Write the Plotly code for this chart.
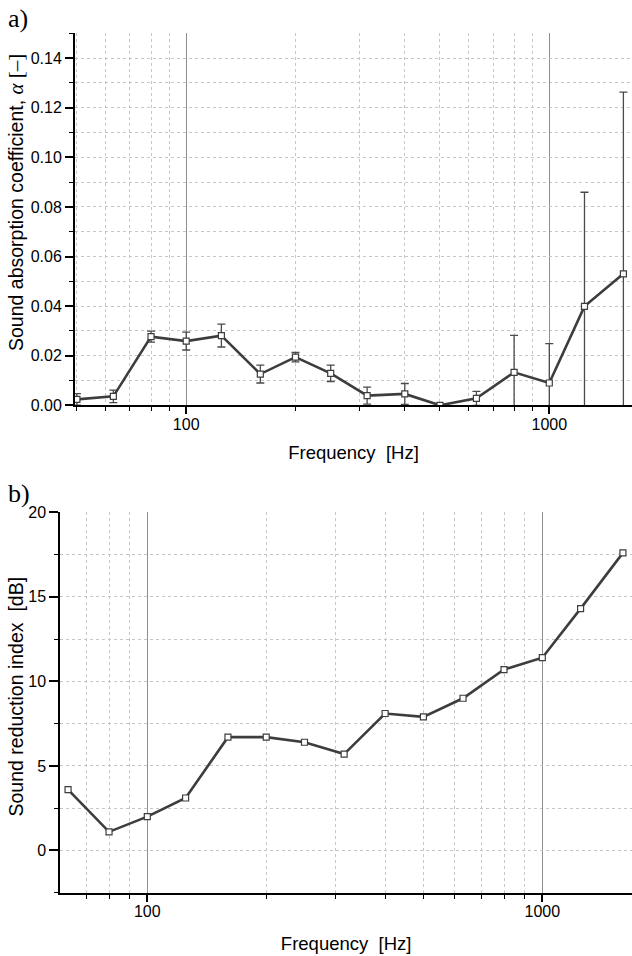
import numpy as np
import plotly.graph_objects as go

# ---- data ----
freq_a = [50, 63, 80, 100, 125, 160, 200, 250, 315, 400, 500, 630, 800, 1000, 1250, 1600]
alpha = [0.0024, 0.0036, 0.0277, 0.0259, 0.0281, 0.0126, 0.0194, 0.0129,
         0.0039, 0.0046, 0.0000, 0.0028, 0.0133, 0.0090, 0.0399, 0.0530]
alpha_err = [0.0023, 0.0025, 0.0022, 0.0036, 0.0046, 0.0036, 0.0019, 0.0033,
             0.0034, 0.0042, 0.0000, 0.0028, 0.0149, 0.0159, 0.0460, 0.0733]

freq_b = [63, 80, 100, 125, 160, 200, 250, 315, 400, 500, 630, 800, 1000, 1250, 1600]
R_dB = [3.6, 1.1, 2.0, 3.1, 6.7, 6.7, 6.4, 5.7, 8.1, 7.9, 9.0, 10.7, 11.4, 14.3, 17.6]

major_x = [100, 1000]
major_x_text = ["100", "1000"]
minor_x = [50, 60, 70, 80, 90, 200, 300, 400, 500, 600, 700, 800, 900, 2000]

W, H = 632, 956
LINE = "#3d3d3d"
ERR = "#4a4a4a"
GRID_MINOR = "#c6c6c6"
GRID_MAJOR = "#8f8f8f"
SANS = "Liberation Sans, Arial, sans-serif"
SERIF = "Liberation Serif, serif"

fig = go.Figure()

fig.add_trace(go.Scatter(
    x=freq_a, y=alpha, mode="lines+markers", xaxis="x", yaxis="y",
    line=dict(color=LINE, width=2.6),
    marker=dict(symbol="square", size=6, color="white", line=dict(color=LINE, width=1.2)),
    error_y=dict(type="data", array=alpha_err, visible=True, color=ERR, thickness=1.3, width=4),
    showlegend=False,
))
fig.add_trace(go.Scatter(
    x=freq_b, y=R_dB, mode="lines+markers", xaxis="x2", yaxis="y2",
    line=dict(color=LINE, width=2.6),
    marker=dict(symbol="square", size=6, color="white", line=dict(color=LINE, width=1.2)),
    showlegend=False,
))

def xaxis_cfg(domain, rng, anchor, standoff):
    return dict(
        type="log", domain=domain, range=rng, anchor=anchor,
        tickmode="array", tickvals=major_x, ticktext=major_x_text,
        showgrid=True, gridcolor=GRID_MAJOR, gridwidth=1,
        ticks="outside", ticklen=7, tickwidth=1.5, tickcolor="black",
        ticklabelstandoff=-4,
        showline=True, linecolor="black", linewidth=2, zeroline=False,
        tickfont=dict(family=SANS, size=16, color="black"),
        minor=dict(tickmode="array", tickvals=minor_x, ticks="outside", ticklen=4,
                   tickwidth=1.2, tickcolor="black", showgrid=True,
                   gridcolor=GRID_MINOR, griddash="dot", gridwidth=1),
        title=dict(text="Frequency\u00a0 [Hz]", font=dict(family=SANS, size=18.5, color="black"),
                   standoff=standoff),
        automargin=False,
    )

def ydom(top_px, bottom_px):
    return [1 - bottom_px / H, 1 - top_px / H]

def yaxis_common(**kw):
    d = dict(
        showgrid=True, gridcolor=GRID_MINOR, griddash="dot", gridwidth=1,
        ticks="outside", tickwidth=1.5, tickcolor="black",
        showline=True, linecolor="black", linewidth=2, zeroline=False,
        tickfont=dict(family=SANS, size=16, color="black"),
        automargin=False,
    )
    d.update(kw)
    return d

fig.update_layout(
    width=W, height=H,
    margin=dict(l=0, r=0, t=0, b=0),
    paper_bgcolor="white", plot_bgcolor="white",
    font=dict(family=SANS, color="black"),
    xaxis=xaxis_cfg([75 / W, 1], [np.log10(49.4), 3.2278], "y", 15),
    xaxis2=xaxis_cfg([60.3 / W, 1], [1.7797, 3.2271], "y2", 18),
    yaxis=yaxis_common(
        domain=ydom(33.3, 405.3), range=[0, 0.15], anchor="x",
        tickmode="linear", tick0=0, dtick=0.02, tickformat=".2f", ticklen=8,
        minor=dict(dtick=0.01, ticks="outside", ticklen=4, tickwidth=1.2, tickcolor="black",
                   showgrid=True, gridcolor=GRID_MINOR, griddash="dot", gridwidth=1),
    ),
    yaxis2=yaxis_common(
        domain=ydom(512.3, 892.7), range=[-2.5, 20], anchor="x2",
        tickmode="linear", tick0=0, dtick=5, ticklen=9,
        minor=dict(dtick=2.5, ticks="outside", ticklen=4, tickwidth=1.2, tickcolor="black",
                   showgrid=True, gridcolor=GRID_MINOR, griddash="dot", gridwidth=1),
    ),
    annotations=[
        dict(text="Sound absorption coefficient, "
                  "<span style='font-family:Liberation Serif;font-size:21px'><i>α</i> [–]</span>",
             xref="paper", yref="paper", x=16 / W, y=1 - 203 / H, textangle=-90,
             xanchor="center", yanchor="middle", showarrow=False,
             font=dict(family=SANS, size=19.5, color="black")),
        dict(text="Sound reduction index\u00a0 [dB]",
             xref="paper", yref="paper", x=15 / W, y=1 - 696.5 / H, textangle=-90,
             xanchor="center", yanchor="middle", showarrow=False,
             font=dict(family=SANS, size=19.5, color="black")),
        dict(text="a)", xref="paper", yref="paper", x=6 / W, y=1 - 18 / H,
             xanchor="left", yanchor="middle", showarrow=False,
             font=dict(family=SERIF, size=26, color="black")),
        dict(text="b)", xref="paper", yref="paper", x=6 / W, y=1 - 493 / H,
             xanchor="left", yanchor="middle", showarrow=False,
             font=dict(family=SERIF, size=26, color="black")),
    ],
)

fig.write_html("out.html", config={"displayModeBar": False},
               post_script="document.body.style.margin='0px';")
